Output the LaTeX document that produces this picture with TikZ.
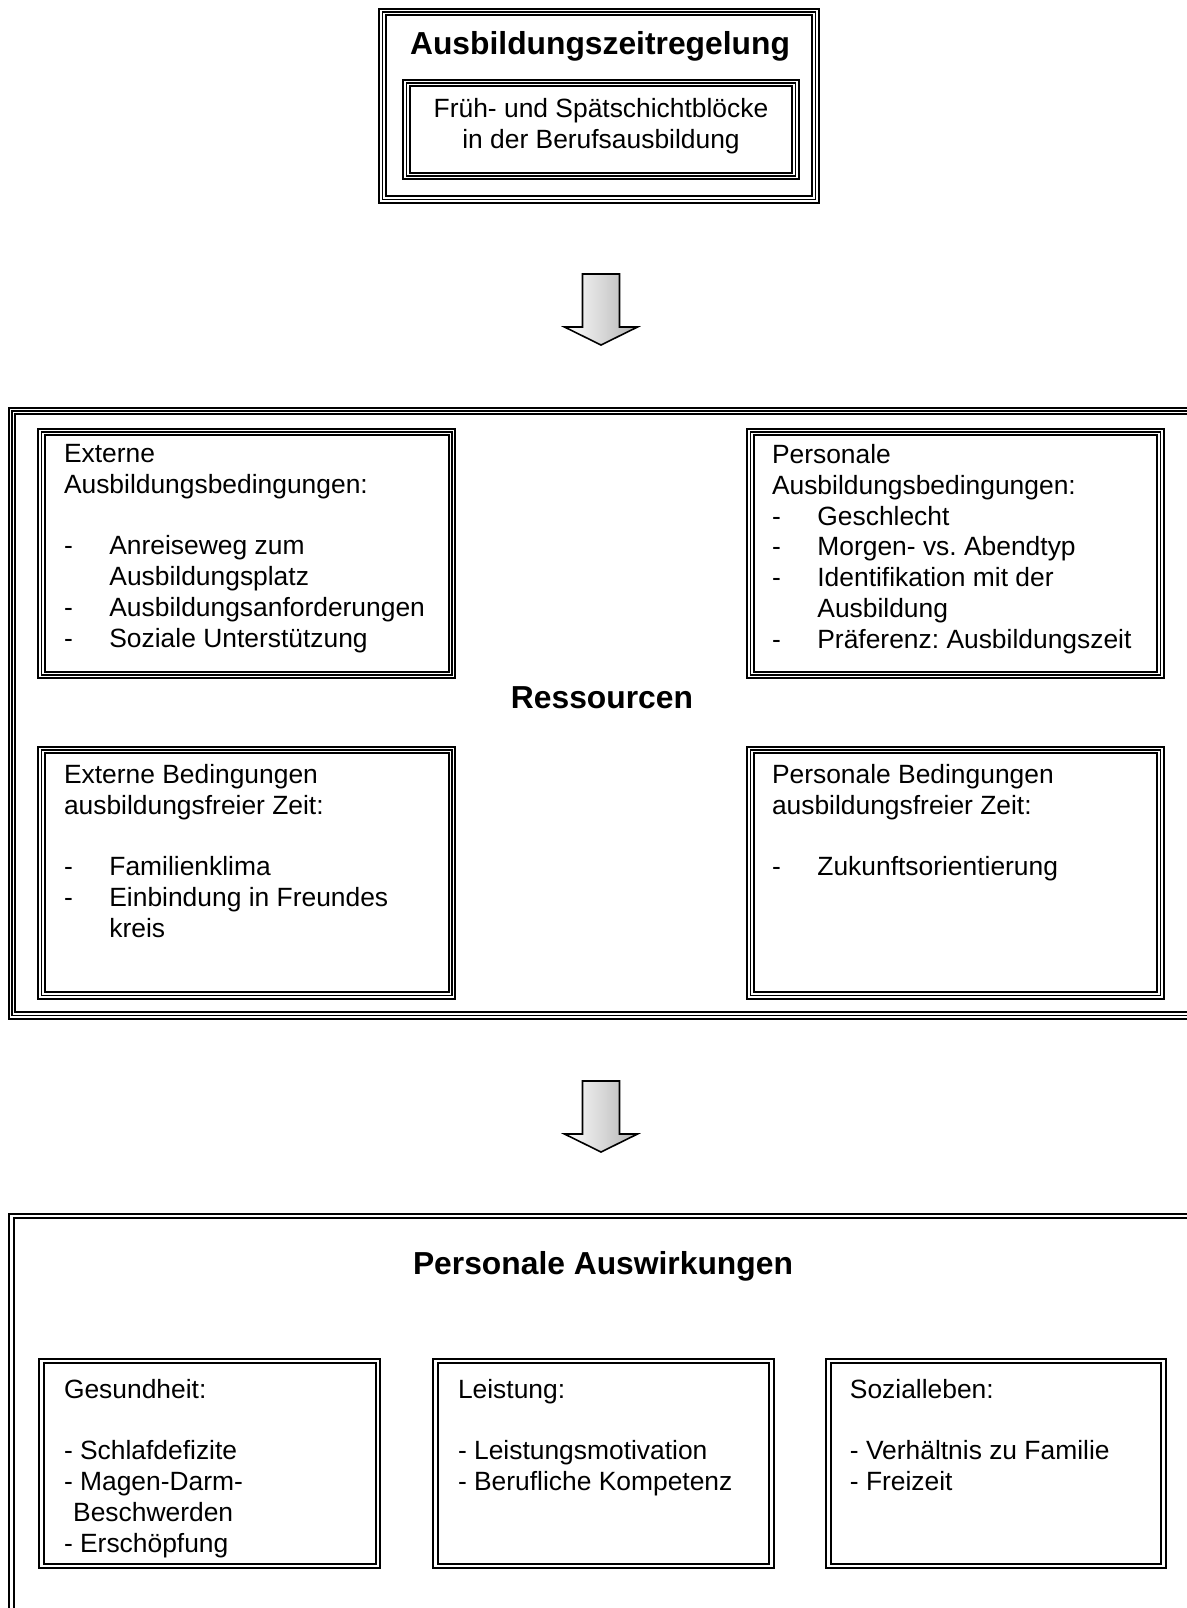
\documentclass[tikz,border=0pt]{standalone}
\usepackage{fontspec}
\setmainfont{Liberation Sans}
\usepackage{tikz}
\usetikzlibrary{positioning,calc}
\frenchspacing

\newcommand{\itm}{\makebox[22.7pt][l]{-}}
\newcommand{\ind}{\hspace*{22.7pt}}

\tikzset{
    tribox/.style={draw=black, line width=4.4pt, inner sep=0pt,
        postaction={draw=white, line width=2.2pt},
        postaction={draw=black, line width=0.9pt}},
    dblbox/.style={draw=black, line width=1.1pt, double=white, double distance=1.2pt, inner sep=0pt},
    boxsize/.style 2 args={minimum width=#1*0.5pt, minimum height=#2*0.5pt},
    boxtext/.style={anchor=north west, inner sep=0pt, align=left, font=\fontsize{13.2}{15.4}\selectfont},
    heading/.style={inner sep=0pt, font=\fontsize{15.9}{19}\selectfont\bfseries},
    downarrow/.pic={
        \draw[line width=0.8pt, line join=miter, left color=white, right color=gray!60]
            (-18.5,0) -- (18.5,0) -- (18.5,53) -- (36.5,53) -- (0,71) -- (-36.5,53) -- (-18.5,53) -- cycle;
    }
}

\begin{document}
\begin{tikzpicture}[x=0.5pt, y=-0.5pt]
    \useasboundingbox (0,0) rectangle (1187,1608);

    % Ausbildungszeitregelung
    \node[tribox, boxsize={433}{187.5}] (zeit) at (599,105.75) {};
    \node[tribox, boxsize={389}{93}] (block) at (601,129.5) {};
    \node[heading] (zeittitle) at (600,46) {Ausbildungszeitregelung};
    \node[boxtext, anchor=north, align=center] (blocktext) at (601,98)
        {Früh- und Spätschichtblöcke\\in der Berufsausbildung};

    \pic at (601,274) {downarrow};

    % Ressourcen
    \node[tribox, boxsize={1179}{604.5}] (res) at (601.5,713.25) {};
    \node[heading] (restitle) at (602,697.7) {Ressourcen};

    \node[tribox, boxsize={410.5}{243}] (extaus) at (246.75,553.5) {};
    \node[boxtext] (extaustext) at (63.6,444)
        {Externe\\Ausbildungsbedingungen:\\[15.4pt]
         \itm Anreiseweg zum\\\ind Ausbildungsplatz\\
         \itm Ausbildungsanforderungen\\\itm Soziale Unterstützung};

    \node[tribox, boxsize={410}{243}] (peraus) at (955.5,553.5) {};
    \node[boxtext] (peraustext) at (771.6,444)
        {Personale\\Ausbildungsbedingungen:\\
         \itm Geschlecht\\\itm Morgen- vs. Abendtyp\\
         \itm Identifikation mit der\\\ind Ausbildung\\
         \itm Präferenz: Ausbildungszeit};

    \node[tribox, boxsize={410.5}{245.5}] (extfrei) at (246.75,872.75) {};
    \node[boxtext] (extfreitext) at (63.6,764)
        {Externe Bedingungen\\ausbildungsfreier Zeit:\\[15.4pt]
         \itm Familienklima\\\itm Einbindung in Freundes\\\ind kreis};

    \node[tribox, boxsize={410}{245.5}] (perfrei) at (955.5,872.75) {};
    \node[boxtext] (perfreitext) at (771.6,764)
        {Personale Bedingungen\\ausbildungsfreier Zeit:\\[15.4pt]
         \itm Zukunftsorientierung};

    \pic at (601,1081) {downarrow};

    % Personale Auswirkungen
    \node[dblbox, boxsize={1179.5}{424}] (ausw) at (601.25,1428) {};
    \node[heading] (auswtitle) at (603,1266) {Personale Auswirkungen};

    \node[dblbox, boxsize={336.5}{205}] (gesund) at (209.75,1463.5) {};
    \node[boxtext] (gesundtext) at (63.6,1378.5)
        {Gesundheit:\\[15.4pt]- Schlafdefizite\\- Magen-Darm-\\\hspace*{4.6pt}Beschwerden\\- Erschöpfung};

    \node[dblbox, boxsize={336}{205}] (leist) at (603.5,1463.5) {};
    \node[boxtext] (leisttext) at (457.6,1378.5)
        {Leistung:\\[15.4pt]- Leistungsmotivation\\- Berufliche Kompetenz};

    \node[dblbox, boxsize={335}{205}] (sozial) at (996,1463.5) {};
    \node[boxtext] (sozialtext) at (849.5,1378.5)
        {Sozialleben:\\[15.4pt]- Verhältnis zu Familie\\- Freizeit};
\end{tikzpicture}
\end{document}
